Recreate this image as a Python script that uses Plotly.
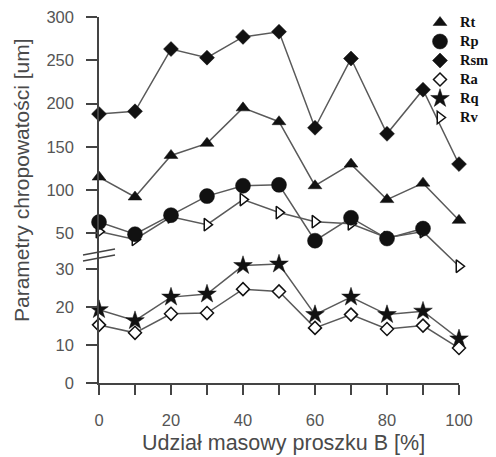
import plotly.graph_objects as go

# ---- data ----
x_pct = [0, 10, 20, 30, 40, 50, 60, 70, 80, 90, 100]
rt = [115, 92, 140, 154, 195, 179, 105, 130, 89, 108, 65]
rp = [63, 49, 71, 93, 105, 106, 41.5, 68, 44, 55.5, None]
rsm = [188, 191, 263, 253, 277, 283, 172, 252, 165, 216, 130]
rv = [52, 43, 69, 60, 89, 74, 63.5, 61, 45, 52, 12]
ra = [15.3, 13.2, 18.2, 18.4, 24.7, 24.1, 14.5, 18.0, 14.2, 15.1, 9.2]
rq = [19.3, 16.4, 22.6, 23.4, 30.9, 31.3, 18.0, 22.6, 18.0, 18.9, 11.6]

upper_ticks = [50, 100, 150, 200, 250, 300]
lower_ticks = [0, 10, 20, 30]
x_ticks = [0, 20, 40, 60, 80, 100]

LINE_C = "#5a5a5a"
MK = "#111111"
AX = "#444444"
TXT = "#555555"

# series: name, values, yaxis, symbol, fill, size, legend rank
series = [
    ("Rv", rv, "y2", "triangle-right", "white", 11, 6),
    ("Rt", rt, "y2", "triangle-up", MK, 12, 1),
    ("Rp", rp, "y2", "circle", MK, 15, 2),
    ("Rsm", rsm, "y2", "diamond", MK, 11.5, 3),
    ("Rq", rq, "y", "star", MK, 14, 5),
    ("Ra", ra, "y", "diamond", "white", 10, 4),
]

fig = go.Figure()
for name, vals, yax, sym, fill, size, rank in series:
    fig.add_trace(go.Scatter(
        x=x_pct, y=vals, yaxis=yax, mode="lines",
        line=dict(color=LINE_C, width=1.5), showlegend=False,
        hoverinfo="skip", cliponaxis=False))
for name, vals, yax, sym, fill, size, rank in series:
    fig.add_trace(go.Scatter(
        x=x_pct, y=vals, yaxis=yax, mode="markers",
        name=f'<span style="font-size:14.5px">{name}</span>',
        legendrank=rank, cliponaxis=False,
        marker=dict(symbol=sym, size=size, color=fill,
                    line=dict(color=MK, width=1.5 if fill == "white" else 0.5))))

# the page places the figure 8px from the top-left corner of the window
OFF = 8
W, H = 496 - OFF, 457 - OFF
L, R, T, B = 99 - OFF, 459 - OFF, 17 - OFF, 383 - OFF
ph = B - T
pw = R - L


def px_y(y):
    return (B - (y - OFF)) / ph


def px_x(x):
    return ((x - OFF) - L) / pw


fig.update_layout(
    width=W, height=H,
    margin=dict(l=L, r=W - R, t=T, b=H - B, autoexpand=False),
    paper_bgcolor="white", plot_bgcolor="rgba(0,0,0,0)",
    font=dict(family="Liberation Sans, Arial, sans-serif", color=TXT, size=16),
    xaxis=dict(range=[0, 100], tickvals=x_ticks, showline=True, linecolor=AX,
               linewidth=1.5, ticks="outside", ticklen=10, tickwidth=1.5,
               tickcolor=AX, showgrid=False, zeroline=False, anchor="y",
               ticklabelstandoff=11, ticklabeloverflow="allow",
               tickfont=dict(size=16.5, color=TXT),
               minor=dict(dtick=10, tick0=0, ticks="outside", ticklen=10,
                          tickwidth=1.5, tickcolor=AX, showgrid=False)),
    yaxis=dict(domain=[0, px_y(253)], range=[0, (383 - 253) / 3.8],
               tickvals=lower_ticks, showline=True, linecolor=AX, linewidth=1.5,
               ticks="outside", ticklen=11, tickwidth=1.5, tickcolor=AX,
               showgrid=False, zeroline=False, anchor="x", ticklabelstandoff=9,
               ticklabeloverflow="allow",
               tickfont=dict(size=16.5, color=TXT)),
    yaxis2=dict(domain=[px_y(276.6), 1], range=[0, 300],
                tickvals=upper_ticks, showline=True, linecolor=AX, linewidth=1.5,
                ticks="outside", ticklen=11, tickwidth=1.5, tickcolor=AX,
                showgrid=False, zeroline=False, anchor="x", ticklabelstandoff=9,
                ticklabeloverflow="allow",
                tickfont=dict(size=16.5, color=TXT)),
    legend=dict(xref="container", yref="container", x=(420 - OFF) / W,
                y=1 - (8 - OFF) / H,
                xanchor="left", yanchor="top", bgcolor="rgba(0,0,0,0)",
                borderwidth=0,
                font=dict(family="Liberation Serif, Times New Roman, serif",
                          size=12, color=MK, weight="bold")),
    showlegend=True,
)

# axis break marks
for (y0, y1) in [(255, 249), (261, 255)]:
    fig.add_shape(type="line", xref="paper", yref="paper",
                  x0=px_x(83), x1=px_x(115), y0=px_y(y0), y1=px_y(y1),
                  line=dict(color=AX, width=1.5))

fig.add_annotation(text="Parametry chropowatości [um]", xref="paper", yref="paper",
                   x=px_x(21), y=px_y(180), textangle=-90,
                   showarrow=False, xanchor="center", yanchor="middle",
                   font=dict(size=21, color="#4a4a4a"))
fig.add_annotation(text="Udział masowy proszku B [%]", xref="paper", yref="paper",
                   x=px_x(283.5), y=px_y(443),
                   showarrow=False, xanchor="center", yanchor="middle",
                   font=dict(size=21.5, color="#4a4a4a"))

fig.write_html("out.html")
